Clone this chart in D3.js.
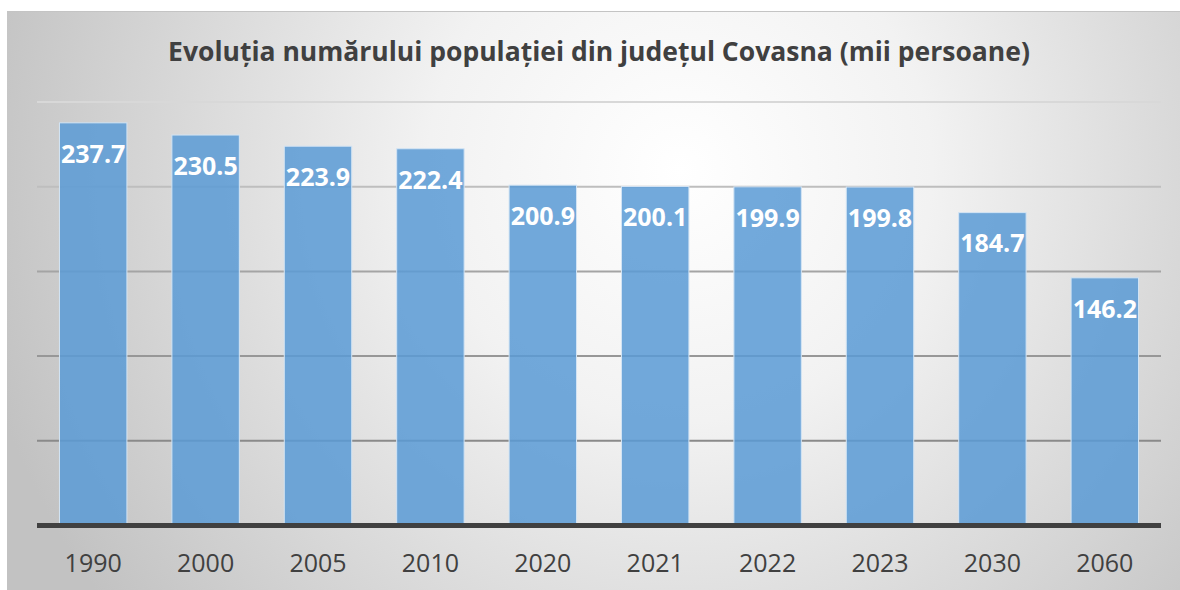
<!DOCTYPE html>
<html>
<head>
<meta charset="utf-8">
<script src="https://cdn.jsdelivr.net/npm/d3@7"></script>
<style>
  body { margin: 0; background: #fff; }
  svg { display: block; }
</style>
</head>
<body>
<svg width="1180" height="590"></svg>
<script>
// data
var years = ["1990", "2000", "2005", "2010", "2020", "2021", "2022", "2023", "2030", "2060"];
var population = [237.7, 230.5, 223.9, 222.4, 200.9, 200.1, 199.9, 199.8, 184.7, 146.2];
var gridTicks = [50, 100, 150, 200, 250];
var title = "Evoluția numărului populației din județul Covasna (mii persoane)";

var svg = d3.select("svg"),
    width = 1180,
    height = 590,
    margin = {top: 102, right: 19, bottom: 64.5, left: 37};

var defs = svg.append("defs");
var grad = defs.append("radialGradient")
    .attr("id", "bg")
    .attr("gradientUnits", "userSpaceOnUse")
    .attr("cx", 680).attr("cy", 170).attr("r", 720);
grad.append("stop").attr("offset", "0%").attr("stop-color", "#ffffff");
grad.append("stop").attr("offset", "35%").attr("stop-color", "#f2f2f2");
grad.append("stop").attr("offset", "100%").attr("stop-color", "#c2c2c2");

svg.append("rect")
    .attr("x", 7).attr("y", 11)
    .attr("width", width - 7).attr("height", height - 11)
    .attr("fill", "url(#bg)");
svg.append("line")
    .attr("x1", 7).attr("x2", width)
    .attr("y1", 11.5).attr("y2", 11.5)
    .attr("stroke", "#c4c4c4");

var x = d3.scaleBand()
    .domain(years)
    .range([margin.left, width - margin.right])
    .paddingInner(0.4)
    .paddingOuter(0.2);

var y = d3.scaleLinear()
    .domain([0, 250])
    .range([height - margin.bottom, margin.top]);

var gridColor = d3.scaleLinear()
    .domain([250, 150, 50])
    .range(["#d8d8d8", "#a4a4a4", "#8a8a8a"]);

// gridlines
svg.append("g")
    .selectAll("line")
    .data(gridTicks)
    .enter().append("line")
    .attr("x1", margin.left)
    .attr("x2", width - margin.right)
    .attr("y1", function(d) { return y(d); })
    .attr("y2", function(d) { return y(d); })
    .attr("stroke", function(d) { return gridColor(d); })
    .attr("stroke-width", 2);

// bars
svg.append("g")
    .selectAll("rect")
    .data(population)
    .enter().append("rect")
    .attr("x", function(d, i) { return x(years[i]); })
    .attr("y", function(d) { return y(d); })
    .attr("width", x.bandwidth())
    .attr("height", function(d) { return y(0) - y(d); })
    .attr("fill", "#5b9bd5")
    .attr("fill-opacity", 0.86)
    .attr("stroke", "#d3e4f4")
    .attr("stroke-width", 1);

// value labels, inside end
svg.append("g")
    .selectAll("text")
    .data(population)
    .enter().append("text")
    .attr("x", function(d, i) { return x(years[i]) + x.bandwidth() / 2; })
    .attr("y", function(d) { return y(d) + 31; })
    .attr("dy", "0.35em")
    .attr("text-anchor", "middle")
    .style("font-family", "'Open Sans', sans-serif")
    .style("font-weight", 700)
    .style("font-size", "25px")
    .style("fill", "#ffffff")
    .text(function(d) { return d.toFixed(1); });

// x axis
var xAxis = svg.append("g")
    .attr("transform", "translate(0," + y(0) + ")")
    .call(d3.axisBottom(x).tickSize(0).tickPadding(29));
xAxis.select(".domain")
    .attr("d", "M" + margin.left + ",0H" + (width - margin.right))
    .attr("stroke", "#404040")
    .attr("stroke-width", 5);
xAxis.selectAll("text")
    .style("font-family", "'Open Sans', sans-serif")
    .style("font-size", "25px")
    .style("fill", "#404040");

// title
svg.append("text")
    .attr("x", 599)
    .attr("y", 52)
    .attr("dy", "0.35em")
    .attr("text-anchor", "middle")
    .style("font-family", "'Open Sans', sans-serif")
    .style("font-weight", 700)
    .style("font-size", "26.5px")
    .style("fill", "#404040")
    .text(title);
</script>
</body>
</html>
